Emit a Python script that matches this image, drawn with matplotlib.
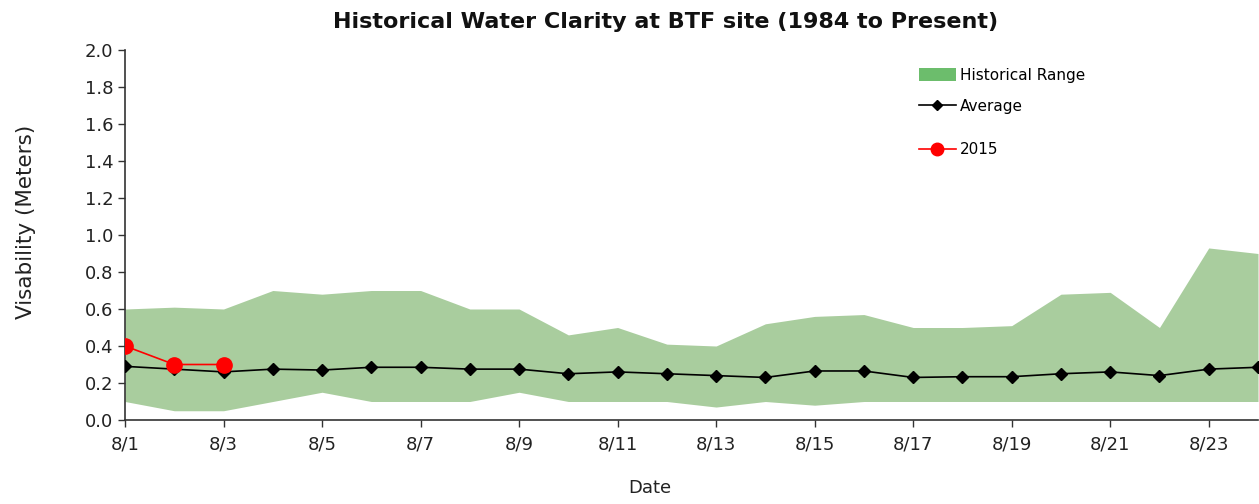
import matplotlib
matplotlib.use("Agg")
import matplotlib.pyplot as plt
from matplotlib.patches import Patch
from matplotlib.lines import Line2D

dates = ["8/1", "8/2", "8/3", "8/4", "8/5", "8/6", "8/7", "8/8", "8/9", "8/10",
         "8/11", "8/12", "8/13", "8/14", "8/15", "8/16", "8/17", "8/18", "8/19",
         "8/20", "8/21", "8/22", "8/23", "8/24"]
hist_max = [0.60, 0.61, 0.60, 0.70, 0.68, 0.70, 0.70, 0.60, 0.60, 0.46,
            0.50, 0.41, 0.40, 0.52, 0.56, 0.57, 0.50, 0.50, 0.51, 0.68,
            0.69, 0.50, 0.93, 0.90]
hist_min = [0.10, 0.05, 0.05, 0.10, 0.15, 0.10, 0.10, 0.10, 0.15, 0.10,
            0.10, 0.10, 0.07, 0.10, 0.08, 0.10, 0.10, 0.10, 0.10, 0.10,
            0.10, 0.10, 0.10, 0.10]
average = [0.29, 0.275, 0.26, 0.275, 0.27, 0.285, 0.285, 0.275, 0.275, 0.25,
           0.26, 0.25, 0.24, 0.23, 0.265, 0.265, 0.23, 0.234, 0.234, 0.25,
           0.26, 0.24, 0.275, 0.285]
dates_2015 = ["8/1", "8/2", "8/3"]
vis_2015 = [0.40, 0.30, 0.30]

x = list(range(len(dates)))
x2015 = [dates.index(d) for d in dates_2015]

fig = plt.figure(figsize=(12.59, 5.04), dpi=100)
ax = fig.add_axes([125 / 1259, 1 - 420 / 504, (1258 - 125) / 1259, 370 / 504])

ax.fill_between(x, hist_min, hist_max, color="#a9cd9e", linewidth=0, zorder=1)
ax.plot(x, average, color="black", linewidth=1.2, marker="D", markersize=6, zorder=3)
ax.plot(x2015, vis_2015, color="#ff0000", linewidth=1.2, marker="o", markersize=11, zorder=4)

ax.set_xlim(0, len(dates) - 1)
ax.set_ylim(0, 2.0)
ax.set_yticks([i * 0.2 for i in range(11)])
ax.set_yticklabels([f"{i * 0.2:.1f}" for i in range(11)])
ax.set_xticks(x[::2])
ax.set_xticklabels(dates[::2])
ax.tick_params(axis="both", labelsize=13, direction="out", length=5, width=1, colors="#333333", labelcolor="#222222")
ax.tick_params(axis="x", pad=6)
for s in ["top", "right"]:
    ax.spines[s].set_visible(False)
for s in ["left", "bottom"]:
    ax.spines[s].set_color("#333333")
    ax.spines[s].set_linewidth(1.2)

ax.set_xlabel("Date", fontsize=13, color="#222222")
ax.xaxis.set_label_coords((650 - 125) / 1133, (420 - 479) / 370)
ax.set_ylabel("Visability (Meters)", fontsize=15.5, color="#222222")
ax.yaxis.set_label_coords((36 - 125) / 1133, (420 - 222) / 370)
fig.text(0.529, 0.957, "Historical Water Clarity at BTF site (1984 to Present)",
         ha="center", va="center", fontsize=16, fontweight="bold", color="#111111")

h1 = Patch(facecolor="#6cbd6c", edgecolor="none", label="Historical Range")
h2 = Line2D([], [], color="black", linewidth=1.2, marker="D", markersize=5, label="Average")
h3 = Line2D([], [], color="#ff0000", linewidth=1.2, marker="o", markersize=9, label="2015")
leg_kw = dict(frameon=False, fontsize=11, handlelength=2.4, borderpad=0, handletextpad=0.3)
l1 = ax.legend(handles=[h1], loc="center left", bbox_to_anchor=(0.694, 0.931), handleheight=0.9, **leg_kw)
ax.add_artist(l1)
l2 = ax.legend(handles=[h2], loc="center left", bbox_to_anchor=(0.694, 0.848), **leg_kw)
ax.add_artist(l2)
ax.legend(handles=[h3], loc="center left", bbox_to_anchor=(0.694, 0.73), **leg_kw)

fig.savefig("out.png", dpi=100)
